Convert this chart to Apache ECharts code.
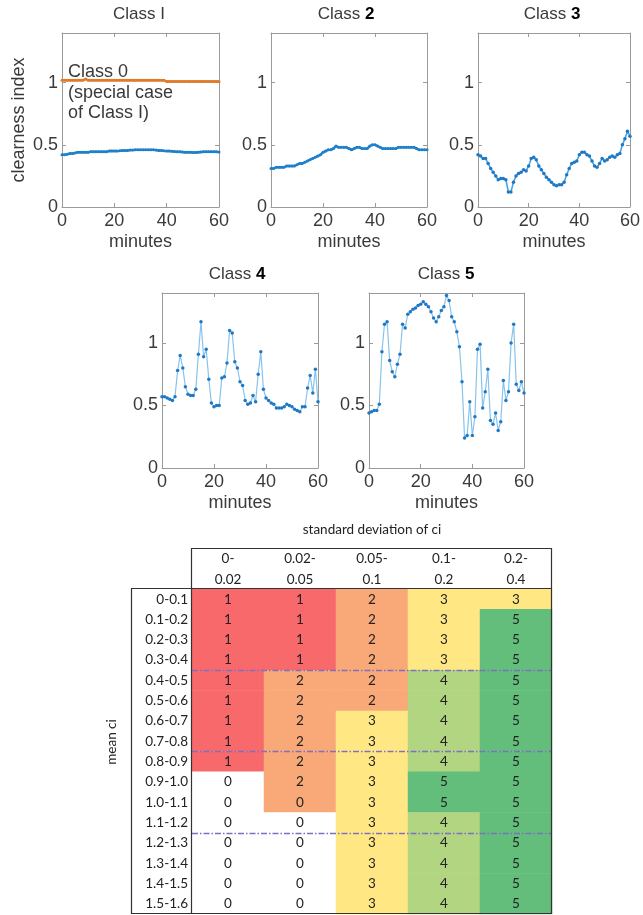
<!DOCTYPE html>
<html>
<head>
<meta charset="utf-8">
<script src="https://cdn.jsdelivr.net/npm/echarts@6/dist/echarts.min.js"></script>
<style>
  html, body { margin: 0; padding: 0; background: #fff; }
  #chart { width: 643px; height: 915px; }
</style>
</head>
<body>
<div id="chart"></div>
<script>
// ---- clearness index traces, one sample per minute (0..60) ----
const minuteTicks = [0, 20, 40, 60];
const ciTicks = [0, 0.5, 1];

const class0 = [1.02,1.02,1.02,1.02,1.02,1.02,1.02,1.02,1.02,1.03,1.02,1.02,1.02,1.02,1.02,1.02,1.02,1.02,1.02,1.02,
  1.02,1.02,1.02,1.02,1.02,1.02,1.02,1.02,1.02,1.02,1.02,1.02,1.02,1.02,1.02,1.02,1.02,1.02,1.02,1.02,
  1.01,1.01,1.01,1.01,1.01,1.01,1.01,1.01,1.01,1.01,1.01,1.01,1.01,1.01,1.01,1.01,1.01,1.01,1.01,1.01,1.01];

const class1 = [0.42,0.42,0.425,0.43,0.43,0.435,0.44,0.44,0.44,0.44,0.44,0.445,0.445,0.445,0.445,0.445,0.445,0.445,0.45,0.45,
  0.45,0.45,0.452,0.455,0.455,0.455,0.458,0.458,0.46,0.46,0.46,0.46,0.46,0.46,0.46,0.46,0.458,0.455,0.455,0.452,
  0.45,0.45,0.448,0.446,0.445,0.445,0.443,0.44,0.44,0.44,0.438,0.438,0.44,0.442,0.445,0.445,0.445,0.445,0.445,0.445,0.442];

const class2 = [0.31,0.31,0.32,0.32,0.32,0.32,0.33,0.33,0.33,0.33,0.34,0.35,0.35,0.36,0.37,0.38,0.39,0.40,0.41,0.42,
  0.44,0.45,0.46,0.46,0.47,0.49,0.48,0.48,0.48,0.48,0.47,0.46,0.47,0.48,0.48,0.47,0.47,0.47,0.49,0.50,
  0.50,0.49,0.48,0.47,0.47,0.47,0.47,0.47,0.47,0.48,0.48,0.48,0.48,0.48,0.48,0.48,0.47,0.46,0.46,0.46,0.46];

const class3 = [0.42,0.41,0.39,0.39,0.35,0.31,0.28,0.25,0.22,0.23,0.23,0.22,0.12,0.12,0.20,0.25,0.27,0.28,0.30,0.29,
  0.33,0.39,0.40,0.38,0.33,0.30,0.27,0.24,0.22,0.20,0.18,0.17,0.18,0.18,0.20,0.26,0.31,0.35,0.36,0.37,
  0.42,0.44,0.44,0.42,0.41,0.37,0.33,0.32,0.35,0.39,0.37,0.38,0.40,0.41,0.40,0.42,0.43,0.50,0.55,0.61,0.57];

const class4 = [0.57,0.57,0.56,0.55,0.54,0.57,0.78,0.90,0.80,0.65,0.59,0.58,0.58,0.63,0.91,1.17,0.89,0.95,0.71,0.52,
  0.49,0.50,0.50,0.72,0.73,0.84,1.10,1.08,0.85,0.80,0.69,0.66,0.54,0.51,0.52,0.58,0.53,0.75,0.93,0.63,
  0.56,0.54,0.52,0.51,0.48,0.48,0.48,0.49,0.51,0.50,0.49,0.47,0.46,0.45,0.49,0.49,0.64,0.74,0.60,0.79,0.53];

const class5 = [0.44,0.45,0.46,0.46,0.51,0.93,1.15,1.17,0.86,0.77,0.73,0.83,0.91,1.15,1.12,1.23,1.25,1.27,1.28,1.30,
  1.31,1.33,1.31,1.29,1.25,1.20,1.17,1.21,1.26,1.29,1.38,1.34,1.21,1.17,1.09,0.97,0.69,0.24,0.26,0.53,
  0.26,0.41,0.95,0.99,0.48,0.61,0.79,0.38,0.35,0.44,0.30,0.37,0.70,0.54,0.61,1.00,1.15,0.67,0.62,0.69,0.60];

// ---- classification table ----
const sdBins = ['0-\n0.02', '0.02-\n0.05', '0.05-\n0.1', '0.1-\n0.2', '0.2-\n0.4'];
const meanBins = ['0-0.1','0.1-0.2','0.2-0.3','0.3-0.4','0.4-0.5','0.5-0.6','0.6-0.7','0.7-0.8',
  '0.8-0.9','0.9-1.0','1.0-1.1','1.1-1.2','1.2-1.3','1.3-1.4','1.4-1.5','1.5-1.6'];
const classTable = [
  [1,1,2,3,3],
  [1,1,2,3,5],
  [1,1,2,3,5],
  [1,1,2,3,5],
  [1,2,2,4,5],
  [1,2,2,4,5],
  [1,2,3,4,5],
  [1,2,3,4,5],
  [1,2,3,4,5],
  [0,2,3,5,5],
  [0,0,3,5,5],
  [0,0,3,4,5],
  [0,0,3,4,5],
  [0,0,3,4,5],
  [0,0,3,4,5],
  [0,0,3,4,5]
];
// cells shaded like another class: [row, column, shade class]
const shadeOverrides = [[10, 1, 2]];
// mean-ci thresholds separating row groups
const groupBreaks = [0.4, 0.8, 1.2];

const classColors = ['#ffffff', '#F8696B', '#F9A877', '#FFE883', '#B1D580', '#63BE7B'];

// ---------------------------------------------------------------
const AX = '#9a9a9a';
const TXT = '#3a3a3a';
const SANS = "'Liberation Sans'";
const TFONT = "Lato";

const plotBoxes = [
  { left: 62,  top: 33,  width: 157, height: 174 },
  { left: 271, top: 33,  width: 156, height: 174 },
  { left: 478, top: 33,  width: 155, height: 174 },
  { left: 162, top: 293, width: 156, height: 175 },
  { left: 369, top: 293, width: 155, height: 175 }
];

const grids = plotBoxes.map(b => Object.assign({ containLabel: false }, b));
grids.push({ left: 192, top: 589, width: 360, height: 325 }); // table
grids.push({ left: 192, top: 589, width: 360, height: 325 }); // table overlay

const xAxes = [], yAxes = [];
plotBoxes.forEach((b, i) => {
  const common = {
    gridIndex: i, type: 'value', splitLine: { show: false },
    axisLine: { show: true, onZero: false, lineStyle: { color: AX, width: 1 } },
    axisTick: { show: true, inside: true, length: 4, lineStyle: { color: AX } }
  };
  xAxes.push(Object.assign({}, common, {
    position: 'bottom', min: minuteTicks[0], max: minuteTicks[minuteTicks.length - 1], interval: 20,
    axisLabel: { color: TXT, fontSize: 18, fontFamily: SANS, margin: 5 },
    name: 'minutes', nameLocation: 'middle', nameGap: 26,
    nameTextStyle: { color: TXT, fontSize: 18, fontFamily: SANS }
  }));
  xAxes.push(Object.assign({}, common, {
    position: 'top', min: 0, max: 60, interval: 20, axisLabel: { show: false }
  }));
  const yl = Object.assign({}, common, {
    position: 'left', min: ciTicks[0], max: 1.4, interval: 0.5,
    axisLabel: {
      color: TXT, fontSize: 18, fontFamily: SANS, margin: 4, showMaxLabel: false,
      formatter: v => (ciTicks.indexOf(v) >= 0 ? String(v) : '')
    }
  });
  if (i === 0) {
    Object.assign(yl, {
      name: 'clearness index', nameLocation: 'middle', nameGap: 34, nameRotate: 90,
      nameTextStyle: { color: TXT, fontSize: 18, fontFamily: SANS }
    });
  }
  yAxes.push(yl);
  yAxes.push(Object.assign({}, common, {
    position: 'right', min: 0, max: 1.4, interval: 0.5, axisLabel: { show: false }
  }));
});

// table axes
xAxes.push({
  gridIndex: 5, type: 'category', data: sdBins, position: 'top',
  axisLine: { show: false }, axisTick: { show: false }, splitLine: { show: false },
  axisLabel: { color: '#222', fontSize: 13.5, fontFamily: TFONT, lineHeight: 21, margin: -1 },
  name: 'standard deviation of ci', nameLocation: 'middle', nameGap: 52,
  nameTextStyle: { color: '#222', fontSize: 13.5, fontFamily: TFONT }
});
yAxes.push({
  gridIndex: 5, type: 'category', data: meanBins, inverse: true,
  axisLine: { show: false }, axisTick: { show: false }, splitLine: { show: false },
  axisLabel: { color: '#222', fontSize: 13.5, fontFamily: TFONT, margin: 4, align: 'right' }
});
xAxes.push({ gridIndex: 6, type: 'value', min: 0, max: 1, show: false });
yAxes.push({ gridIndex: 6, type: 'value', min: 0, max: 1.6, inverse: true, show: false });

const toPoints = arr => arr.map((v, m) => [m, v]);

function smoothSeries(idx, data, color) {
  return {
    type: 'line', xAxisIndex: idx * 2, yAxisIndex: idx * 2, data: toPoints(data),
    symbol: 'circle', symbolSize: 3, showSymbol: true,
    lineStyle: { color: color, width: 2.4 }, itemStyle: { color: color },
    silent: true, z: 3
  };
}
function jaggedSeries(idx, data, lineColor, width) {
  return {
    type: 'line', xAxisIndex: idx * 2, yAxisIndex: idx * 2, data: toPoints(data),
    symbol: 'circle', symbolSize: 3.5, showSymbol: true,
    lineStyle: { color: lineColor, width: width }, itemStyle: { color: '#1f78c3' },
    silent: true, z: 3
  };
}

const heatData = [];
classTable.forEach((row, r) => row.forEach((cls, c) => {
  let shade = cls;
  shadeOverrides.forEach(o => { if (o[0] === r && o[1] === c) shade = o[2]; });
  heatData.push({ value: [c, r, cls], itemStyle: { color: classColors[shade] } });
}));

const series = [
  smoothSeries(0, class1, '#1f80c9'),
  smoothSeries(0, class0, '#DF7B2B'),
  smoothSeries(1, class2, '#1f80c9'),
  jaggedSeries(2, class3, '#4aa2e0', 1.6),
  jaggedSeries(3, class4, '#86c3ec', 1.2),
  jaggedSeries(4, class5, '#86c3ec', 1.2),
  {
    type: 'heatmap', xAxisIndex: 10, yAxisIndex: 10, data: heatData,
    itemStyle: { borderWidth: 0 },
    label: { show: true, formatter: p => String(p.value[2]), color: '#222', fontSize: 13.5, fontFamily: TFONT },
    emphasis: { disabled: true }, silent: true
  },
  {
    type: 'line', xAxisIndex: 11, yAxisIndex: 11, data: [[0, groupBreaks[0]]],
    symbol: 'none', lineStyle: { opacity: 0 }, silent: true, z: 10,
    markLine: {
      silent: true, symbol: ['none', 'none'], label: { show: false },
      lineStyle: { color: '#7d6fc2', width: 1.3, type: [6, 2, 1.5, 2] },
      data: groupBreaks.map(v => ({ yAxis: v }))
    }
  }
];

function title(x, y, num, boldNum) {
  return {
    type: 'text', x: x, y: y, z: 20,
    style: {
      text: boldNum ? 'Class {b|' + num + '}' : 'Class ' + num,
      align: 'center', verticalAlign: 'middle',
      fill: TXT, fontSize: 17, fontFamily: SANS,
      rich: { b: { fontWeight: 'bold', fill: '#000', fontSize: 17, fontFamily: SANS } }
    }
  };
}
function frameLine(x1, y1, x2, y2) {
  return {
    type: 'line', z: 30, silent: true,
    shape: { x1: x1, y1: y1, x2: x2, y2: y2 },
    style: { stroke: '#333', lineWidth: 1.2 }
  };
}

const graphic = [
  title(139, 14, 'I', false),
  title(346, 14, '2', true),
  title(552, 14, '3', true),
  title(237, 274, '4', true),
  title(446, 274, '5', true),
  {
    type: 'text', x: 68, y: 62, z: 20,
    style: {
      text: 'Class 0\n(special case\nof Class I)', fill: TXT, fontSize: 18, fontFamily: SANS,
      lineHeight: 20.5, align: 'left', verticalAlign: 'top'
    }
  },
  {
    type: 'text', x: 112, y: 742, rotation: Math.PI / 2, z: 20,
    style: { text: 'mean ci', fill: '#222', fontSize: 13.5, fontFamily: TFONT, align: 'center', verticalAlign: 'middle' }
  },
  frameLine(192, 548.5, 552, 548.5),
  frameLine(131, 588.5, 552, 588.5),
  frameLine(191.5, 548, 191.5, 914),
  frameLine(131.5, 588, 131.5, 914),
  frameLine(551.5, 548, 551.5, 914),
  frameLine(131, 913.5, 552, 913.5)
];

const chart = echarts.init(document.getElementById('chart'), null, { renderer: 'canvas' });
chart.setOption({
  animation: false,
  backgroundColor: '#ffffff',
  grid: grids,
  xAxis: xAxes,
  yAxis: yAxes,
  series: series,
  graphic: graphic
});
</script>
</body>
</html>
